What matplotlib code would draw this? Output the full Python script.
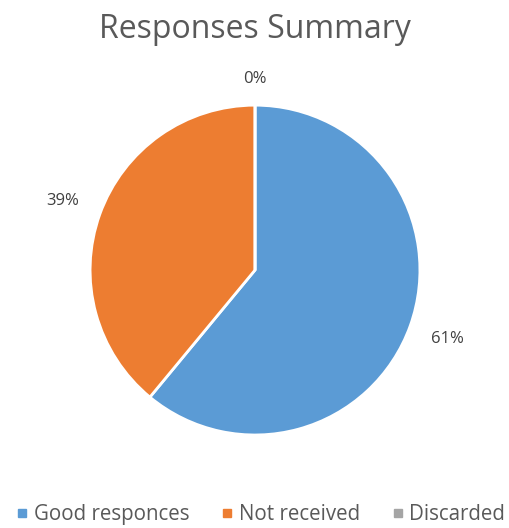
import numpy as np
import matplotlib.pyplot as plt
from matplotlib.lines import Line2D

plt.rcParams['font.family'] = ['Open Sans', 'DejaVu Sans']

categories = ['Good responces', 'Not received', 'Discarded']
shares = [61, 39, 0]
colors = ['#5B9BD5', '#ED7D31', '#A5A5A5']
label_dist = [1.24, 1.24, 1.16]

fig = plt.figure(figsize=(5.09, 5.28), dpi=100)
ax = fig.add_axes([0.177, 0.176, 0.648, 0.625])

wedges, _ = ax.pie(shares, colors=colors, startangle=90, counterclock=False,
                   wedgeprops=dict(edgecolor='white', linewidth=2))

# percentage labels outside each wedge
total = sum(shares)
for w, v, d in zip(wedges, shares, label_dist):
    mid = np.deg2rad((w.theta1 + w.theta2) / 2)
    ax.text(d * np.cos(mid), d * np.sin(mid), f'{100 * v / total:.0f}%',
            ha='center', va='center', fontsize=12, color='#404040')

ax.set_xlim(-1.0, 1.0)
ax.set_ylim(-1.0, 1.0)
ax.set_aspect('equal')

fig.suptitle('Responses Summary', y=0.975, fontsize=23, color='#595959')

handles = [Line2D([], [], marker='s', linestyle='', markersize=6,
                  markerfacecolor=c, markeredgecolor=c) for c in colors]
fig.legend(handles, categories, loc='lower center', ncol=3, frameon=False,
           bbox_to_anchor=(0.51, -0.03), fontsize=14.8, labelcolor='#595959',
           handletextpad=0.15, columnspacing=1.45, handlelength=0.8)

fig.savefig('out.png', dpi=100)
